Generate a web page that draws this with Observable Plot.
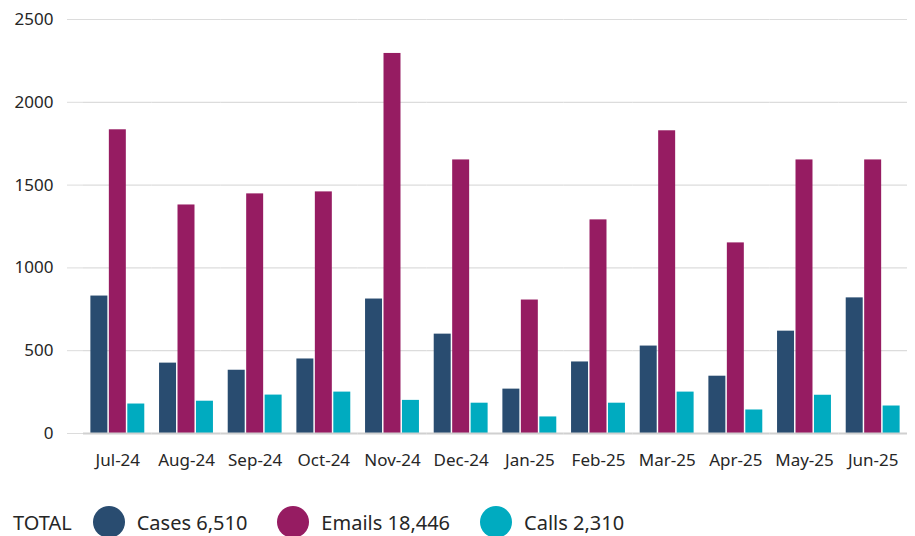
<!DOCTYPE html>
<html>
<head>
<meta charset="utf-8">
<script src="https://cdn.jsdelivr.net/npm/d3@7"></script>
<script src="https://cdn.jsdelivr.net/npm/@observablehq/plot@0.6"></script>
<style>
  html, body { margin: 0; padding: 0; background: #fff; }
  #legend { display: flex; align-items: center; height: 84px; font-family: "Noto Sans", sans-serif; font-size: 20px; color: #262626; padding-left: 13px; box-sizing: border-box; }
  #legend .item { display: flex; align-items: center; }
  #legend .dot { width: 32px; height: 32px; border-radius: 50%; display: inline-block; margin-right: 12px; }
</style>
</head>
<body>
<div id="chart"></div>
<div id="legend"></div>
<script>
const months = ["Jul-24","Aug-24","Sep-24","Oct-24","Nov-24","Dec-24","Jan-25","Feb-25","Mar-25","Apr-25","May-25","Jun-25"];
const seriesNames = ["Cases","Emails","Calls"];
const cases  = [830, 425, 382, 450, 812, 600, 268, 432, 528, 346, 618, 819];
const emails = [1834, 1380, 1447, 1459, 2295, 1652, 806, 1290, 1828, 1151, 1652, 1652];
const calls  = [178, 195, 232, 250, 200, 183, 100, 183, 250, 142, 231, 166];
const colors = ["#294c70", "#961c62", "#00abc0"];
const yTicks = [0, 500, 1000, 1500, 2000, 2500];

const seriesValues = [cases, emails, calls];
const data = months.flatMap((m, i) => seriesNames.map((s, j) => ({month: m, series: s, value: seriesValues[j][i]})));

const chart = Plot.plot({
  width: 915,
  height: 480,
  marginTop: 19,
  marginBottom: 47,
  marginLeft: 83,
  marginRight: 8,
  style: {fontFamily: "Noto Sans, sans-serif", fontSize: "17px", color: "#262626", background: "#fff"},
  fx: {domain: months, padding: 0, round: false, label: null, tickSize: 0, tickPadding: 20},
  x: {domain: seriesNames, axis: null, round: false, paddingInner: 0.08, paddingOuter: 0.4},
  y: {domain: [0, 2500], axis: null},
  color: {domain: seriesNames, range: colors},
  marks: [
    Plot.ruleY(yTicks.slice(1), {stroke: "#dcdcdc", strokeWidth: 1.2}),
    Plot.barY(data, {fx: "month", x: "series", y: "value", fill: "series"}),
    Plot.ruleY([0], {stroke: "#d0d0d0", strokeWidth: 2}),
    Plot.axisY({ticks: yTicks, label: null, tickSize: 16, tickPadding: 14, stroke: "#dcdcdc", fill: "#262626", tickFormat: d => String(d)})
  ]
});
document.getElementById("chart").appendChild(chart);

const totals = seriesValues.map(v => d3.sum(v));
const fmt = d3.format(",");
const legend = document.getElementById("legend");
const lab = document.createElement("span");
lab.textContent = "TOTAL";
lab.style.marginRight = "21px";
legend.appendChild(lab);
seriesNames.forEach((s, j) => {
  const item = document.createElement("span");
  item.className = "item";
  item.style.marginRight = "30px";
  const dot = document.createElement("span");
  dot.className = "dot";
  dot.style.background = colors[j];
  const t = document.createElement("span");
  t.textContent = s + " " + fmt(totals[j]);
  item.appendChild(dot);
  item.appendChild(t);
  legend.appendChild(item);
});
</script>
</body>
</html>
